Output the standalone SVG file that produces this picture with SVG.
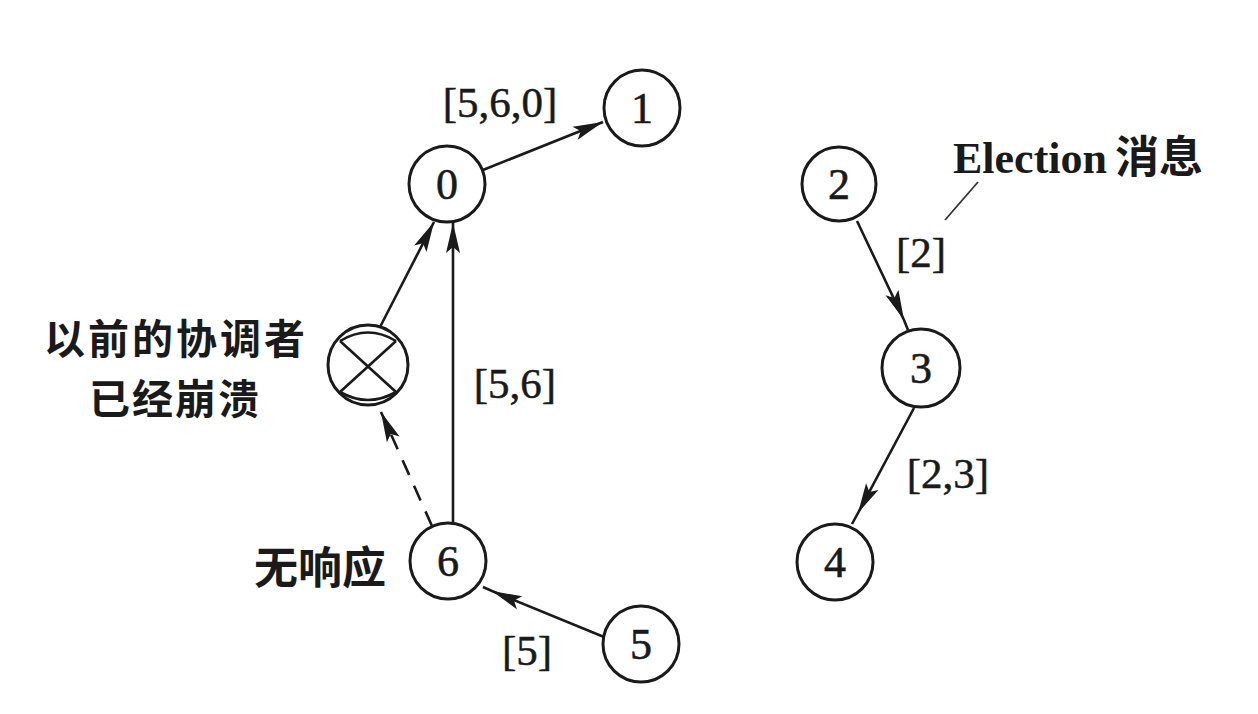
<svg xmlns="http://www.w3.org/2000/svg" width="1258" height="714" viewBox="0 0 1258 714">
<style>
.node circle{fill:#fff;stroke:#1a1a1a;stroke-width:3}
.num{font-family:"Liberation Serif","Times New Roman",serif;font-size:44px;fill:#1a1a1a;text-anchor:middle;stroke:#1a1a1a;stroke-width:0.6}
.lbl{font-family:"Liberation Serif","Times New Roman",serif;font-size:43px;fill:#1a1a1a;stroke:#1a1a1a;stroke-width:0.5}
.cjk{font-family:"Noto Sans CJK SC",sans-serif;font-size:44px;fill:#1a1a1a;font-weight:bold}
.edge{fill:none;stroke:#1a1a1a;stroke-width:2.6}
.dash{stroke-dasharray:16 12}
.thin{fill:none;stroke:#333;stroke-width:1.8}
</style>
<defs>
<marker id="arr" markerUnits="userSpaceOnUse" markerWidth="34" markerHeight="18" refX="31" refY="9" orient="auto" overflow="visible">
<path d="M1,2 L31,9 L1,16 L7,9 z" fill="#1a1a1a"/>
</marker>
</defs>
<rect width="1258" height="714" fill="#fff"/>
<g id="connectors">
<path class="edge" d="M483,170 L603,122" marker-end="url(#arr)"/>
<path class="edge" d="M379,329 L434,222" marker-end="url(#arr)"/>
<path class="edge" d="M453,522 L453,223" marker-end="url(#arr)"/>
<path class="edge dash" d="M432,526 L381,412" marker-end="url(#arr)"/>
<path class="edge" d="M604,637 L492,591 L483,587" marker-mid="url(#arr)"/>
<path class="edge" d="M857,221 L904,320 L908,330" marker-mid="url(#arr)"/>
<path class="edge" d="M914,408 L858,513 L852,524" marker-mid="url(#arr)"/>
<path class="thin" d="M978,182 L945,220"/>
</g>
<g id="node0" class="node"><circle cx="447" cy="184" r="38"/><text class="num" x="447" y="199">0</text></g>
<g id="node1" class="node"><circle cx="642" cy="108" r="38"/><text class="num" x="642" y="123">1</text></g>
<g id="node2" class="node"><circle cx="839" cy="184" r="37"/><text class="num" x="839" y="199">2</text></g>
<g id="node3" class="node"><circle cx="921" cy="368" r="39"/><text class="num" x="921" y="383">3</text></g>
<g id="node4" class="node"><circle cx="835" cy="562" r="38"/><text class="num" x="835" y="577">4</text></g>
<g id="node5" class="node"><circle cx="641" cy="644" r="38"/><text class="num" x="641" y="659">5</text></g>
<g id="node6" class="node"><circle cx="448" cy="561" r="38"/><text class="num" x="448" y="576">6</text></g>
<g id="crashed" class="node">
<circle cx="368" cy="365" r="40"/>
<path class="edge" d="M340,341 L396,392 M396,341 L340,392 M340,341 Q368,324 396,341 M340,392 Q368,408 396,392"/>
</g>
<g id="labels">
<text class="lbl" x="500" y="117" text-anchor="middle">[5,6,0]</text>
<text class="lbl" x="515" y="398" text-anchor="middle">[5,6]</text>
<text class="lbl" x="527" y="665" text-anchor="middle">[5]</text>
<text class="lbl" x="921" y="267" text-anchor="middle">[2]</text>
<text class="lbl" x="948" y="488" text-anchor="middle">[2,3]</text>
<text class="cjk" x="953" y="173"><tspan font-family="Liberation Serif,serif">Election</tspan><tspan dx="8">消息</tspan></text>
<text class="cjk" x="176" y="354" text-anchor="middle" style="font-size:41px;letter-spacing:3px">以前的协调者</text>
<text class="cjk" x="175" y="414" text-anchor="middle" style="font-size:41px;letter-spacing:2px">已经崩溃</text>
<text class="cjk" x="320" y="584" text-anchor="middle">无响应</text>
</g>
</svg>
